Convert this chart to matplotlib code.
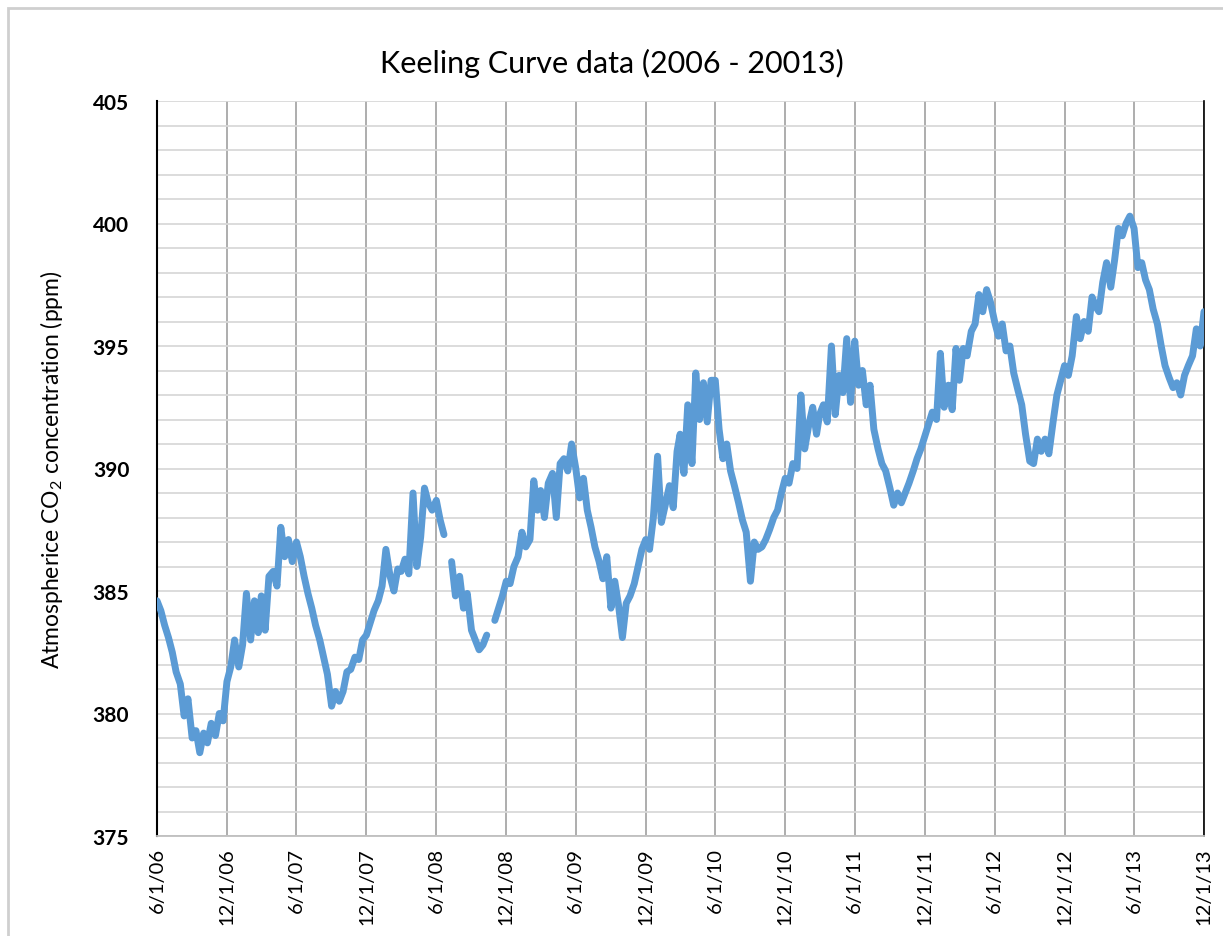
import numpy as np
import pandas as pd
import matplotlib
matplotlib.use("Agg")
import matplotlib.pyplot as plt
import matplotlib.dates as mdates
from matplotlib.ticker import MultipleLocator, FuncFormatter

# sample days within each month (1st, 11th, 21st), Jun 2006 - Nov 2013, plus 12/1/13
months = pd.date_range("2006-06-01", "2013-11-01", freq="MS")
days = [1, 11, 21]
dates = [m + pd.Timedelta(days=d - 1) for m in months for d in days] + [pd.Timestamp("2013-12-01")]

# CO2 (ppm), three readings per month
co2 = [
    384.6, 384.2, 383.6,  # Jun 06
    383.1, 382.5, 381.7,
    381.2, 379.9, 380.6,
    379.0, 379.3, 378.4,
    379.2, 378.8, 379.6,
    379.1, 380.0, 379.7,
    381.3, 381.9, 383.0,  # Dec 06
    381.9, 382.8, 384.9,
    383.0, 384.6, 383.3,
    384.8, 383.4, 385.6,
    385.8, 385.2, 387.6,
    386.4, 387.1, 386.2,
    387.0, 386.4, 385.6,  # Jun 07
    384.9, 384.3, 383.6,
    383.0, 382.3, 381.6,
    380.3, 380.9, 380.5,
    380.9, 381.7, 381.8,
    382.3, 382.2, 383.0,
    383.2, 383.7, 384.2,  # Dec 07
    384.6, 385.2, 386.7,
    385.6, 385.0, 385.9,
    385.8, 386.3, 385.7,
    389.0, 386.0, 387.2,
    389.2, 388.6, 388.3,
    388.7, 387.9, 387.3,  # Jun 08
    np.nan, 386.2, 384.8,
    385.6, 384.3, 384.9,
    383.4, 383.0, 382.6,
    382.8, 383.2, np.nan,
    383.8, 384.3, 384.8,
    385.4, 385.3, 386.0,  # Dec 08
    386.4, 387.4, 386.8,
    387.1, 389.5, 388.3,
    389.1, 388.0, 389.4,
    389.8, 388.0, 390.2,
    390.4, 389.9, 391.0,
    390.0, 388.8, 389.6,  # Jun 09
    388.3, 387.6, 386.8,
    386.2, 385.5, 386.4,
    384.3, 385.4, 384.4,
    383.1, 384.5, 384.8,
    385.3, 386.0, 386.7,
    387.1, 386.7, 388.0,  # Dec 09
    390.5, 387.8, 388.5,
    389.3, 388.4, 390.7,
    391.4, 389.8, 392.6,
    390.2, 393.9, 392.0,
    393.5, 391.9, 393.6,
    393.6, 391.6, 390.4,  # Jun 10
    391.0, 389.9, 389.3,
    388.6, 387.9, 387.4,
    385.4, 387.0, 386.7,
    386.8, 387.1, 387.5,
    388.0, 388.3, 389.0,
    389.6, 389.4, 390.2,  # Dec 10
    390.0, 393.0, 390.8,
    391.8, 392.5, 391.4,
    392.2, 392.6, 391.9,
    395.0, 392.2, 393.8,
    393.1, 395.3, 392.7,
    395.2, 393.4, 394.0,  # Jun 11
    392.6, 393.4, 391.6,
    390.8, 390.2, 389.9,
    389.2, 388.5, 389.0,
    388.6, 389.0, 389.4,
    389.9, 390.4, 390.8,
    391.3, 391.8, 392.3,  # Dec 11
    392.0, 394.7, 392.5,
    393.4, 392.4, 394.9,
    393.6, 394.9, 394.6,
    395.6, 395.9, 397.1,
    396.4, 397.3, 396.8,
    396.0, 395.4, 395.9,  # Jun 12
    394.8, 395.0, 393.9,
    393.2, 392.6, 391.4,
    390.3, 390.2, 391.2,
    390.7, 391.2, 390.6,
    391.9, 393.0, 393.6,
    394.2, 393.8, 394.6,  # Dec 12
    396.2, 395.3, 396.0,
    395.6, 397.0, 396.6,
    396.4, 397.6, 398.4,
    397.4, 398.5, 399.8,
    399.5, 400.0, 400.3,
    399.8, 398.2, 398.4,  # Jun 13
    397.7, 397.3, 396.5,
    395.9, 395.0, 394.2,
    393.7, 393.3, 393.5,
    393.0, 393.8, 394.2,
    394.6, 395.7, 395.0,
    396.4,                # Dec 13
]

title = "Keeling Curve data (2006 - 20013)"
ylabel = "Atmospherice CO$_2$ concentration (ppm)"

plt.rcParams['font.family'] = ['Lato', 'DejaVu Sans']
plt.rcParams['mathtext.fontset'] = 'custom'
plt.rcParams['mathtext.rm'] = 'Lato'

fig = plt.figure(figsize=(12.23, 9.37), dpi=100)
ax = fig.add_axes([157/1223, 1 - 837/937, (1204 - 157)/1223, (837 - 102)/937])

ax.plot(dates, co2, color="#5b9bd5", lw=5, solid_joinstyle="round",
        solid_capstyle="round", zorder=3)

ax.set_ylim(375, 405)
ax.set_xlim(pd.Timestamp("2006-06-01"), pd.Timestamp("2013-12-01"))
ax.yaxis.set_major_locator(MultipleLocator(5))
ax.yaxis.set_minor_locator(MultipleLocator(1))
ax.xaxis.set_major_locator(mdates.MonthLocator(bymonth=[6, 12], bymonthday=1))
ax.xaxis.set_major_formatter(FuncFormatter(
    lambda v, p: "{}/{}/{:%y}".format(mdates.num2date(v).month, mdates.num2date(v).day, mdates.num2date(v))))

ax.grid(True, axis="y", which="both", color="#d9d9d9", lw=1.3, zorder=0)
ax.grid(True, axis="x", which="major", color="#a0a0a0", lw=1.2, zorder=0)
ax.tick_params(axis="both", which="both", length=0)
ax.tick_params(axis="y", pad=20, labelsize=15)
ax.tick_params(axis="x", pad=8, labelsize=14.5, labelrotation=90)
for t in ax.get_yticklabels():
    t.set_fontweight("bold")

ax.spines["top"].set_visible(False)
ax.spines["left"].set_color("black")
ax.spines["left"].set_linewidth(1.5)
ax.spines["right"].set_color("black")
ax.spines["right"].set_linewidth(1.2)
ax.spines["bottom"].set_color("#bfbfbf")
ax.spines["bottom"].set_linewidth(1.3)

ax.set_ylabel(ylabel, fontsize=16.5, labelpad=20)
fig.suptitle(title, fontsize=22, y=0.948)

# chart frame
fig.patches.append(plt.Rectangle((8/1223, -0.1), 1, 1.1 - 9/937, transform=fig.transFigure,
                                 fill=False, edgecolor="#cfcfcf", lw=2))

fig.savefig("out.png", dpi=100)
